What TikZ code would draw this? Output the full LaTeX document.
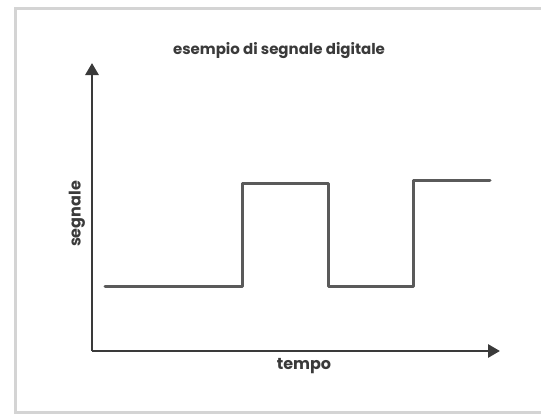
\documentclass[tikz,border=0pt]{standalone}
\usepackage{fontspec}
\setmainfont{Poppins}
\usetikzlibrary{arrows.meta}
\definecolor{sig}{HTML}{5A5A5A}
\definecolor{axc}{HTML}{3A3A3A}
\definecolor{frm}{HTML}{D4D4D4}
\tikzset{
  signal/.style={draw=sig, line width=3pt, line join=round, line cap=round},
  axis/.style={draw=axc, line width=2.8pt, -{Triangle[length=12pt,width=13pt]}},
  lbl/.style={font=\bfseries\fontsize{16}{18}\selectfont, text=axc, inner sep=0pt},
  ttl/.style={font=\bfseries\fontsize{15}{17}\selectfont, text=axc, inner sep=0pt},
}
\begin{document}
\begin{tikzpicture}[x=1pt,y=-1pt]
\useasboundingbox (0,0) rectangle (541,415);
\fill[white] (0,0) rectangle (541,415);
% frame
\draw[frm, line width=3pt] (545,8) -- (15,8) -- (15,412) -- (545,412);
% axes
\coordinate (O) at (92,351);
\coordinate (ytip) at (92,63);
\coordinate (xtip) at (500,351);
\draw[axis] (O) -- (ytip);
\draw[axis] (O) -- (xtip);
% signal
\coordinate (s0) at (105,286);
\coordinate (s1) at (242,286);
\coordinate (s2) at (242,183);
\coordinate (s3) at (328,183);
\coordinate (s4) at (328,286);
\coordinate (s5) at (413,286);
\coordinate (s6) at (413,180);
\coordinate (s7) at (490,180);
\draw[signal] (s0) -- (s1) -- (s2) -- (s3) -- (s4) -- (s5) -- (s6) -- (s7);
% labels
\node[ttl] (title) at (279,51) {esempio di segnale digitale};
\node[lbl] (xl) at (304,366) {tempo};
\node[lbl, rotate=90] (yl) at (77,214) {segnale};
\end{tikzpicture}
\end{document}
